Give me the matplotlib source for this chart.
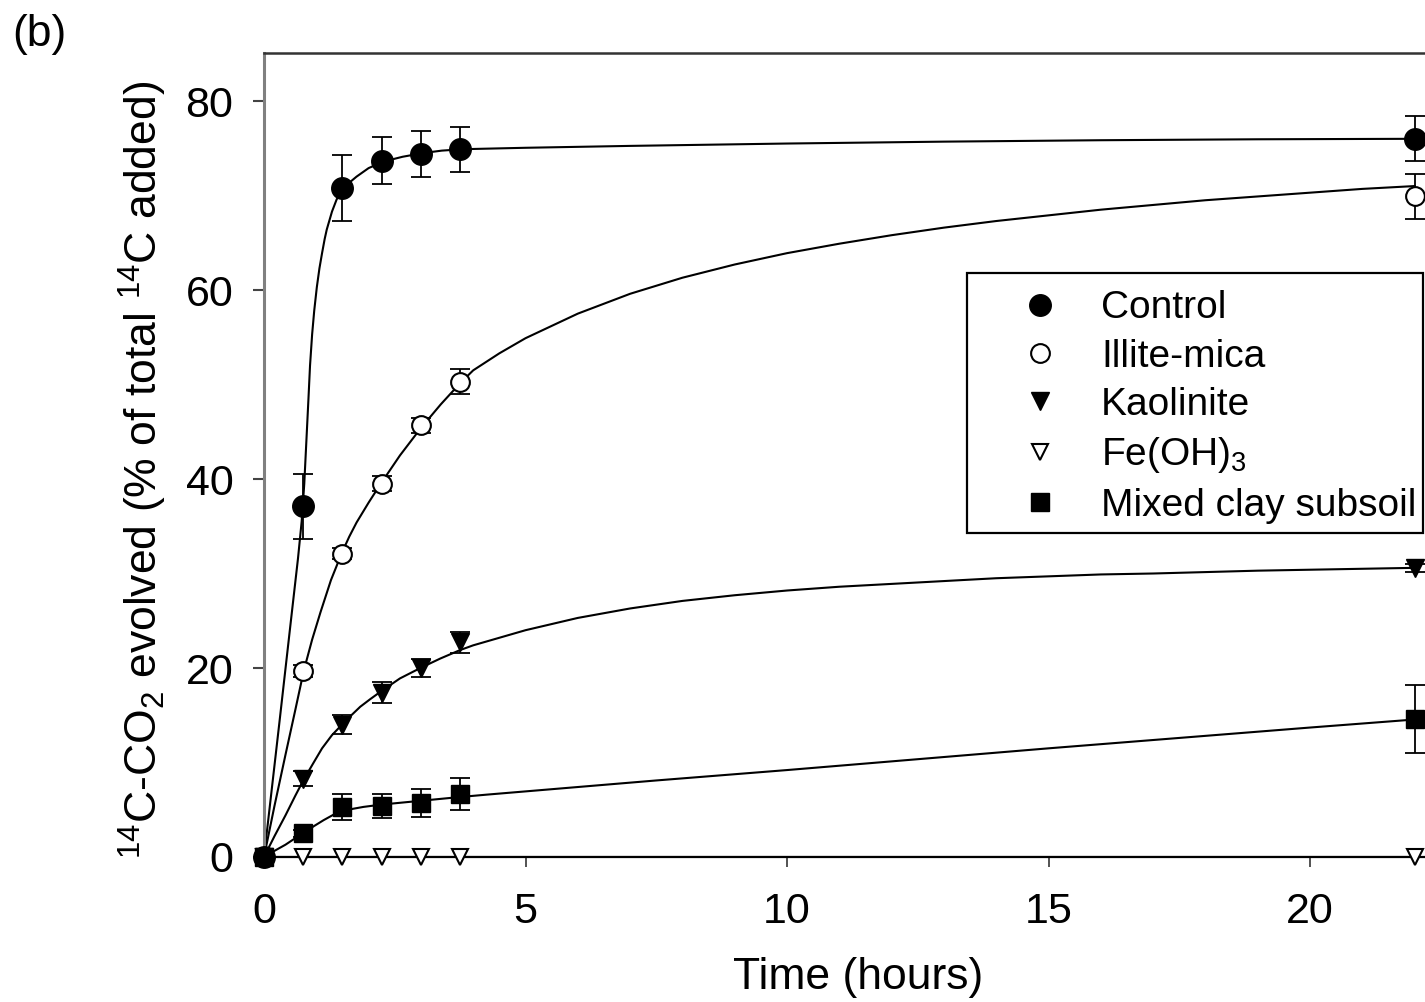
import matplotlib
matplotlib.use("Agg")
import matplotlib.pyplot as plt
from matplotlib.patches import Rectangle

plt.rcParams["font.family"] = ["Liberation Sans", "DejaVu Sans"]
plt.rcParams["mathtext.fontset"] = "custom"
plt.rcParams["mathtext.rm"] = "Liberation Sans"
plt.rcParams["mathtext.default"] = "regular"

# Sampling times (hours)
t = [0, 0.75, 1.5, 2.25, 3.0, 3.75, 22]

# Measured values (% of total 14C added) and error bars
control = [0, 37.1, 70.8, 73.7, 74.4, 74.9, 76.0]
control_err = [0, 3.4, 3.5, 2.5, 2.4, 2.4, 2.4]
illite = [0, 19.7, 32.1, 39.5, 45.7, 50.3, 69.9]
illite_err = [0, 0.6, 0.6, 0.8, 0.8, 1.3, 2.4]
kaolinite = [0, 8.3, 14.0, 17.4, 20.0, 22.7, 30.6]
kaolinite_err = [0, 0.8, 1.0, 1.1, 1.0, 1.1, 0.4]
feoh3 = [0, 0, 0, 0, 0, 0, 0]
feoh3_err = [0, 0, 0, 0, 0, 0, 0]
mixed = [0, 2.5, 5.3, 5.4, 5.7, 6.7, 14.6]
mixed_err = [0, 0.4, 1.4, 1.3, 1.5, 1.7, 3.6]

# Fitted curves
control_fit_t = [0, 0.3, 0.5, 0.65, 0.72, 0.77, 0.81, 0.85, 0.88, 0.92, 0.96, 1.01,
                 1.06, 1.11, 1.16, 1.2, 1.3, 1.39, 1.51, 1.64, 1.77, 2.0, 2.29, 2.65,
                 3.05, 3.4, 3.8, 5, 7, 10, 13, 16, 19, 22]
control_fit = [0, 14.5, 24.3, 31.6, 35.5, 39.5, 44.0, 48.5, 52.0, 55.3, 57.8, 60.3,
               62.3, 63.9, 65.4, 66.4, 68.3, 69.6, 70.6, 71.4, 72.0, 72.9, 73.6, 74.1,
               74.5, 74.75, 74.9, 75.05, 75.25, 75.5, 75.7, 75.85, 75.95, 76.0]
illite_fit_t = [0, 0.2, 0.41, 0.6, 0.76, 0.92, 1.08, 1.28, 1.49, 1.63, 1.77, 2.0,
                2.22, 2.6, 3.0, 3.38, 3.76, 4, 4.5, 5, 6, 7, 8, 9, 10, 11, 12, 13, 14,
                15, 16, 17, 18, 19, 20, 21, 22]
illite_fit = [0, 5.4, 10.8, 15.6, 19.7, 23.0, 25.9, 29.3, 32.2, 33.9, 35.4, 37.5,
              39.4, 42.5, 45.4, 47.9, 50.2, 51.5, 53.3, 54.9, 57.5, 59.6, 61.3, 62.7,
              63.9, 64.9, 65.8, 66.6, 67.3, 67.9, 68.5, 69.0, 69.5, 69.9, 70.3, 70.7,
              71.0]
kaolinite_fit_t = [0, 0.2, 0.41, 0.6, 0.76, 0.95, 1.11, 1.3, 1.49, 1.67, 1.84, 2.03,
                   2.23, 2.6, 2.99, 3.37, 3.75, 4, 5, 6, 7, 8, 9, 10, 11, 12, 13, 14,
                   15, 16, 17, 18, 19, 20, 21, 22]
kaolinite_fit = [0, 2.2, 4.4, 6.5, 8.2, 10.0, 11.5, 12.9, 14.0, 15.0, 15.9, 16.7,
                 17.5, 18.9, 20.0, 21.0, 21.9, 22.4, 24.0, 25.3, 26.3, 27.1, 27.7,
                 28.2, 28.6, 28.9, 29.2, 29.5, 29.7, 29.9, 30.0, 30.15, 30.3, 30.4,
                 30.5, 30.6]
feoh3_fit_t = [0, 22]
feoh3_fit = [0, 0]
mixed_fit_t = [0, 0.2, 0.41, 0.6, 0.76, 0.95, 1.14, 1.32, 1.51, 1.7, 1.9, 2.25, 3.0,
               3.75, 4.26, 7.5, 10, 15, 20, 22]
mixed_fit = [0, 0.65, 1.3, 2.0, 2.55, 3.25, 3.9, 4.45, 4.85, 5.1, 5.3, 5.55, 5.95,
             6.35, 6.6, 8.1, 9.2, 11.5, 13.7, 14.55]

labels = ["Control", "Illite-mica", "Kaolinite", "Fe(OH)$_3$", "Mixed clay subsoil"]

fig = plt.figure(figsize=(14.25, 10.02), dpi=100)
ax = fig.add_axes([264 / 1425, 145 / 1002, 1203 / 1425, 804 / 1002])

lw = 1.5
for ft, fy in [(control_fit_t, control_fit), (illite_fit_t, illite_fit),
               (kaolinite_fit_t, kaolinite_fit), (feoh3_fit_t, feoh3_fit),
               (mixed_fit_t, mixed_fit)]:
    ax.plot(ft, fy, color="black", lw=lw, zorder=2, solid_joinstyle="round")

for y, e in [(control, control_err), (illite, illite_err), (kaolinite, kaolinite_err),
             (feoh3, feoh3_err), (mixed, mixed_err)]:
    ax.errorbar(t, y, yerr=e, fmt="none", ecolor="black", elinewidth=1.3,
                capsize=7, capthick=1.3, zorder=3, clip_on=False)

h1, = ax.plot(t, control, "o", ms=15.5, mfc="black", mec="black", zorder=4,
              clip_on=False, label=labels[0])
h2, = ax.plot(t, illite, "o", ms=13.5, mfc="white", mec="black", mew=1.5, zorder=4,
              clip_on=False, label=labels[1])
h3, = ax.plot(t, kaolinite, "v", ms=13, mfc="black", mec="black", zorder=4,
              clip_on=False, label=labels[2])
h4, = ax.plot(t, feoh3, "v", ms=12, mfc="white", mec="black", mew=1.5, zorder=4,
              clip_on=False, label=labels[3])
h5, = ax.plot(t, mixed, "s", ms=13, mfc="black", mec="black", zorder=5,
              clip_on=False, label=labels[4])

ax.set_xlim(0, 23)
ax.set_ylim(0, 85.08)
ax.set_xticks([0, 5, 10, 15, 20])
ax.set_yticks([0, 20, 40, 60, 80])
ax.tick_params(axis="y", direction="out", length=8, width=1.5, color="#444444",
               labelsize=31, pad=14)
ax.tick_params(axis="x", direction="out", length=7, width=1.3, color="#444444",
               labelsize=31, pad=18)

ax.spines["left"].set_color("#808080")
ax.spines["left"].set_linewidth(2.2)
ax.spines["top"].set_color("#333333")
ax.spines["top"].set_linewidth(1.8)
ax.spines["bottom"].set_color("black")
ax.spines["bottom"].set_linewidth(1.6)
ax.spines["right"].set_visible(False)

ax.set_xlabel("Time (hours)", fontsize=32)
ax.set_ylabel("$^{14}$C-CO$_2$ evolved (% of total $^{14}$C added)", fontsize=32)
ax.xaxis.set_label_coords(0.494, -0.124)
ax.yaxis.set_label_coords(-0.079, 0.481)

leg = fig.legend(handles=[h1, h2, h3, h4, h5], loc="center left",
                 bbox_to_anchor=(1001 / 1425, 1 - 407 / 1002), frameon=False,
                 fontsize=28, numpoints=1, borderpad=0, handlelength=1.0,
                 handletextpad=1.07, labelspacing=0.32)
fig.add_artist(Rectangle((967 / 1425, 1 - 533 / 1002), 456 / 1425, 260 / 1002,
                         transform=fig.transFigure, fill=False, edgecolor="black",
                         lw=1.6, zorder=1))

fig.text(12 / 1425, 1 - 14 / 1002, "(b)", fontsize=32, ha="left", va="top")

fig.savefig("out.png", dpi=100)
